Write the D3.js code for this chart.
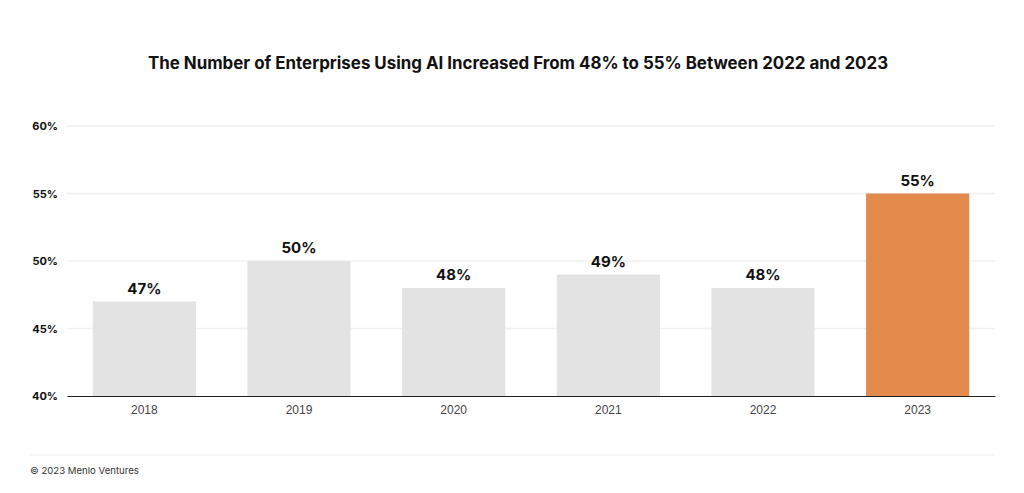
<!DOCTYPE html>
<html>
<head>
<meta charset="utf-8">
<script src="https://cdn.jsdelivr.net/npm/d3@7"></script>
<style>
  body { margin: 0; background: #fff; }
  svg { display: block; font-family: Inter, "Noto Sans", sans-serif; }
</style>
</head>
<body>
<div id="chart"></div>
<script>
// podaci
const godine = ["2018", "2019", "2020", "2021", "2022", "2023"];
const postoci = [47, 50, 48, 49, 48, 55];
const yTicks = [40, 45, 50, 55, 60];
const istaknuto = "2023";

const dim = { width: 1024, height: 493, margin: { top: 126, right: 29, bottom: 97, left: 67 } };
dim.boundsWidth = dim.width - dim.margin.left - dim.margin.right;
dim.boundsHeight = dim.height - dim.margin.top - dim.margin.bottom;

const svg = d3.select("#chart").append("svg")
  .attr("width", dim.width)
  .attr("height", dim.height);

// naslov
svg.append("text")
  .attr("x", 518)
  .attr("y", 69)
  .attr("text-anchor", "middle")
  .attr("font-size", 16.9)
  .attr("font-weight", 700)
  .attr("fill", "#111")
  .text("The Number of Enterprises Using AI Increased From 48% to 55% Between 2022 and 2023");

const g = svg.append("g")
  .attr("transform", `translate(${dim.margin.left},${dim.margin.top})`);

const x = d3.scaleBand()
  .domain(godine)
  .range([0, dim.boundsWidth])
  .paddingInner(0.333)
  .paddingOuter(0.1667);

const y = d3.scaleLinear()
  .domain([40, 60])
  .range([dim.boundsHeight, 0]);

// mreza
g.append("g")
  .selectAll("line")
  .data(yTicks.filter(t => t > 40))
  .join("line")
    .attr("x1", 0)
    .attr("x2", dim.boundsWidth)
    .attr("y1", d => y(d))
    .attr("y2", d => y(d))
    .attr("stroke", "#f0f0f0")
    .attr("stroke-width", 1.5);

// y os
const yAxis = g.append("g")
  .call(d3.axisLeft(y).tickValues(yTicks).tickFormat(d => d + "%").tickSize(0).tickPadding(9));
yAxis.select(".domain").remove();
yAxis.selectAll("text")
  .attr("font-size", 11)
  .attr("font-weight", 700)
  .attr("fill", "#111")
  .attr("font-family", "Inter, sans-serif");

// stupci
g.append("g")
  .selectAll("rect")
  .data(godine)
  .join("rect")
    .attr("x", d => x(d))
    .attr("width", x.bandwidth())
    .attr("y", (d, i) => y(postoci[i]))
    .attr("height", (d, i) => y(40) - y(postoci[i]))
    .attr("fill", d => d === istaknuto ? "#e38b4c" : "#e3e3e3");

// oznake vrijednosti
g.append("g")
  .selectAll("text")
  .data(godine)
  .join("text")
    .attr("x", d => x(d) + x.bandwidth() / 2)
    .attr("y", (d, i) => y(postoci[i]) - 8)
    .attr("text-anchor", "middle")
    .attr("font-size", 15)
    .attr("font-weight", 700)
    .attr("fill", "#111")
    .text((d, i) => postoci[i] + "%");

// x os
const xAxis = g.append("g")
  .attr("transform", `translate(0,${dim.boundsHeight})`)
  .call(d3.axisBottom(x).tickSize(0).tickPadding(9));
xAxis.select(".domain").attr("stroke", "#222").attr("stroke-width", 1.2);
xAxis.selectAll("text")
  .attr("font-size", 12)
  .attr("fill", "#444")
  .attr("font-family", "'Liberation Sans', Arial, sans-serif");

// podnozje
svg.append("line")
  .attr("x1", 30).attr("x2", 995)
  .attr("y1", 455).attr("y2", 455)
  .attr("stroke", "#eeeeee")
  .attr("stroke-width", 1);

svg.append("text")
  .attr("x", 30)
  .attr("y", 474)
  .attr("font-size", 9.6)
  .attr("fill", "#333")
  .text("© 2023 Menlo Ventures");
</script>
</body>
</html>
